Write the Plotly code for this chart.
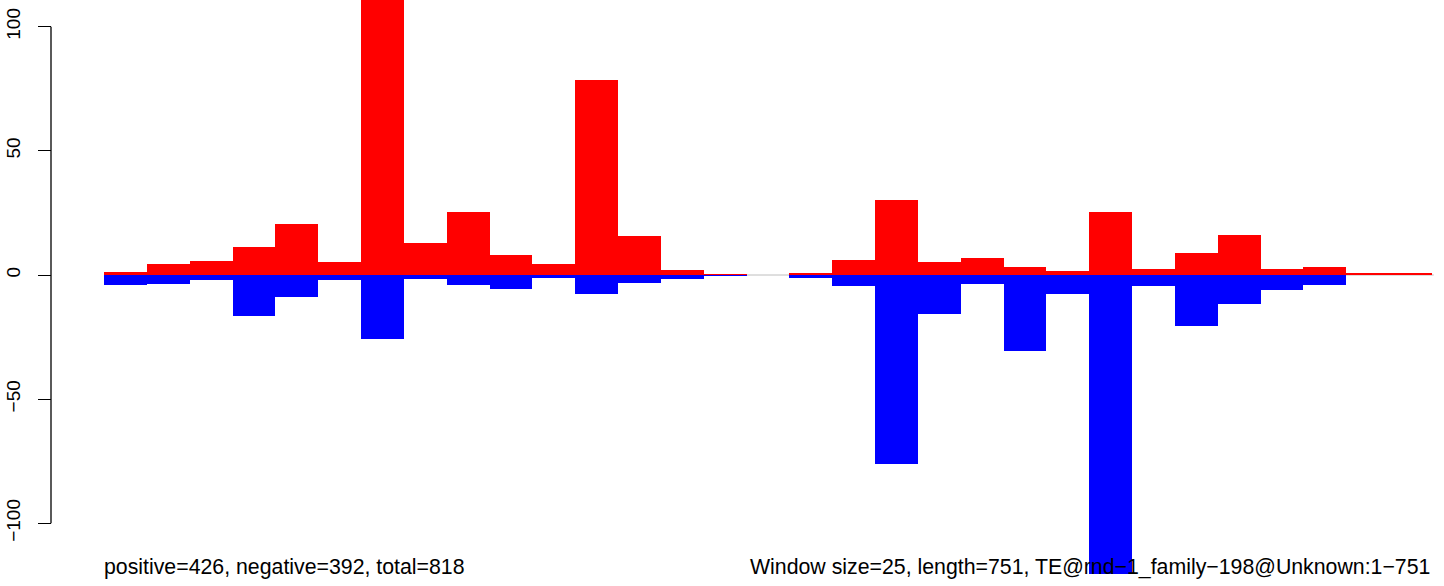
import plotly.graph_objects as go

# ---- data ----
window_size = 25
window_index = list(range(31))  # 31 windows along the 751 bp element
positive = [1.2, 4.4, 5.6, 11.3, 20.5, 5.2, 114.0, 12.9, 25.4, 8.1, 4.4, 78.5, 15.7, 2.0, 0.4, 0.0,
            0.8, 6.0, 30.2, 5.2, 6.8, 3.2, 1.6, 25.4, 2.4, 8.9, 16.1, 2.4, 3.2, 0.8, 0.8]
negative = [-4.0, -3.6, -1.9, -16.4, -8.7, -1.9, -25.8, -1.6, -4.0, -5.5, -1.1, -7.5, -3.1, -1.5, -0.3, 0.0,
            -1.1, -4.4, -76.1, -15.7, -3.5, -30.5, -7.5, -120.4, -4.4, -20.4, -11.7, -6.0, -4.0, 0.0, 0.0]
y_tick_vals = [-100, -50, 0, 50, 100]
y_tick_text = ["\u2212100", "\u221250", "0", "50", "100"]
left_label = "positive=426, negative=392, total=818"
right_label = "Window size=25, length=751, TE@rnd\u22121_family\u2212198@Unknown:1\u2212751"

x_centers = [i * window_size + window_size / 2 for i in window_index]
x_end = len(window_index) * window_size

FONT = "Liberation Sans, Arial, Helvetica, sans-serif"

fig = go.Figure()
fig.add_trace(go.Bar(x=x_centers, y=positive, width=window_size,
                     marker=dict(color="#ff0000", line=dict(width=0)), showlegend=False))
fig.add_trace(go.Bar(x=x_centers, y=negative, width=window_size,
                     marker=dict(color="#0000ff", line=dict(width=0)), showlegend=False))

# gray zero line under the bars
fig.add_shape(type="line", xref="x", yref="y", x0=0, x1=x_end + 1, y0=0, y1=0,
              line=dict(color="#bebebe", width=1), layer="below")

axis_pos = 51 / 1444
# R-style axis line spanning only the tick range
fig.add_shape(type="line", xref="paper", yref="y", x0=axis_pos, x1=axis_pos,
              y0=min(y_tick_vals), y1=max(y_tick_vals),
              line=dict(color="black", width=1.3))

fig.add_annotation(text=left_label, xref="x", yref="paper", x=0, y=1 - 567 / 586,
                   xanchor="left", yanchor="middle", showarrow=False, xshift=-2,
                   font=dict(family=FONT, size=21.3, color="black"))
fig.add_annotation(text=right_label, xref="x", yref="paper", x=x_end, y=1 - 567 / 586,
                   xanchor="right", yanchor="middle", showarrow=False,
                   font=dict(family=FONT, size=21.3, color="black"))

fig.update_layout(
    width=1444, height=586,
    margin=dict(l=0, r=0, t=0, b=0),
    paper_bgcolor="white", plot_bgcolor="white",
    barmode="overlay", bargap=0,
    xaxis=dict(range=[-60.7, 782.0], visible=False, fixedrange=True),
    yaxis=dict(range=[-125.25, 110.75], anchor="free", position=axis_pos,
               showgrid=False, zeroline=False, showline=False, fixedrange=True,
               ticks="outside", ticklen=13, tickwidth=1.3, tickcolor="black",
               tickvals=y_tick_vals, ticktext=y_tick_text, tickangle=-90,
               ticklabelstandoff=10,
               tickfont=dict(family=FONT, size=19, color="black")),
)

fig.write_html("out.html", config={"displayModeBar": False},
               post_script="document.body.style.margin='0px';document.body.style.overflow='hidden';")
